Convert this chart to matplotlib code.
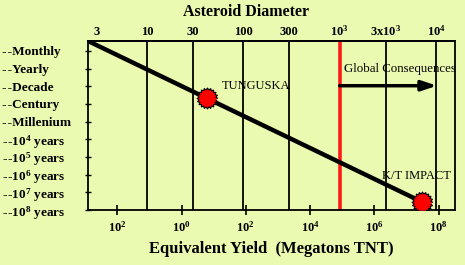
import matplotlib
matplotlib.use("Agg")
import matplotlib.pyplot as plt
import numpy as np

plt.rcParams["mathtext.fontset"] = "custom"
plt.rcParams["mathtext.rm"] = "Liberation Serif:bold"
plt.rcParams["mathtext.it"] = "Liberation Serif:bold"
plt.rcParams["mathtext.bf"] = "Liberation Serif:bold"

# ---------------- data ----------------
interval_labels = ["--Monthly", "--Yearly", "--Decade", "--Century", "--Millenium",
                   "--10$^{4}$ years", "--10$^{5}$ years", "--10$^{6}$ years",
                   "--10$^{7}$ years", "--10$^{8}$ years"]
yield_ticks = [1e-2, 1e0, 1e2, 1e4, 1e6, 1e8]
yield_tick_labels = ["10$^{2}$", "10$^{0}$", "10$^{2}$", "10$^{4}$", "10$^{6}$", "10$^{8}$"]
diam_ticks = [3, 10, 30, 100, 300, 1000, 3000, 10000]
diam_tick_labels = ["3", "10", "30", "100", "300", "10$^{3}$", "3x10$^{3}$", "10$^{4}$"]
diam_lines = [10, 30, 100, 300, 3000, 10000]
global_diam = 1000

# frequency line (yield Mt, interval index)
line_yield = [10**-2.91, 10**7.73]
line_freq = [-0.56, 8.76]
events = ["TUNGUSKA", "K/T IMPACT"]
event_yield = [10**0.79, 10**7.48]
event_freq = [2.64, 8.54]

C = 10**1.36  # diameter (m) = C * yield^(1/3)


def to_diam(y):
    return C * np.cbrt(y)


def to_yield(d):
    return (np.asarray(d) / C) ** 3


serif = ["Liberation Serif", "DejaVu Serif"]
bg = "#eafab0"

# jagged "explosion" marker outline
ang = np.linspace(0, 2 * np.pi, 41)[:-1]
rad = np.where(np.arange(40) % 2 == 0, 1.0, 0.82)
burst = list(zip(rad * np.cos(ang), rad * np.sin(ang)))

fig = plt.figure(figsize=(4.65, 2.65), dpi=100, facecolor=bg)
ax = fig.add_axes([88 / 465, 55 / 265, 367 / 465, 169 / 265])
ax.set_facecolor(bg)
ax.set_xscale("log")
ax.set_xlim(10**-2.91, 10**8.51)
ax.set_ylim(8.95, -0.56)

for d in diam_lines:
    ax.axvline(to_yield(d), color="black", lw=1.3, zorder=1)
ax.axvline(to_yield(global_diam), color="#ff1a1a", lw=2.6, zorder=2)

ax.plot(line_yield, line_freq, color="black", lw=3.2, solid_capstyle="butt", zorder=3)
ax.plot(event_yield, event_freq, linestyle="none", marker=burst, markersize=15,
        markerfacecolor="#ff0000", markeredgecolor="black", markeredgewidth=0.8, zorder=4)

ax.text(10**1.25, 1.99, events[0], family=serif, fontsize=9, va="center", ha="left")
ax.text(10**6.25, 7.1, events[1], family=serif, fontsize=9, va="center", ha="left")
ax.text(to_yield(global_diam) * 1.35, 1.0, "Global Consequences", family=serif,
        fontsize=9.3, va="center", ha="left")
ax.annotate("", xy=(10**7.95, 1.97), xytext=(to_yield(global_diam), 1.97),
            arrowprops=dict(arrowstyle="-|>,head_length=0.9,head_width=0.3",
                            color="black", lw=2.5, shrinkA=0, shrinkB=0))

for s in ax.spines.values():
    s.set_linewidth(1.3)

ax.set_xticks(yield_ticks)
ax.set_xticklabels(yield_tick_labels, family=serif, fontweight="bold", fontsize=9)
ax.xaxis.set_minor_locator(matplotlib.ticker.NullLocator())
ax.tick_params(axis="x", direction="inout", length=7, width=1.2, pad=4)

ax.set_yticks(range(len(interval_labels)))
ax.set_yticklabels([s.replace("--", "-\u200a-") for s in interval_labels],
                   family=serif, fontweight="bold", fontsize=9.5, ha="left")
ax.tick_params(axis="y", direction="inout", length=4, width=1, pad=60)

ax.set_xlabel("Equivalent Yield  (Megatons TNT)", family=serif, fontweight="bold",
              fontsize=12, labelpad=4)

sec = ax.secondary_xaxis("top", functions=(to_diam, to_yield))
sec.set_xticks(diam_ticks)
sec.set_xticklabels(diam_tick_labels, family=serif, fontweight="bold", fontsize=9)
sec.xaxis.set_minor_locator(matplotlib.ticker.NullLocator())
sec.tick_params(axis="x", length=0, pad=2)
sec.spines["top"].set_linewidth(1.3)

fig.text(246 / 465, 1 - 12 / 265, "Asteroid Diameter", family=serif, fontweight="bold",
         fontsize=11.5, ha="center", va="center")

fig.savefig("out.png", dpi=100, facecolor=bg)
